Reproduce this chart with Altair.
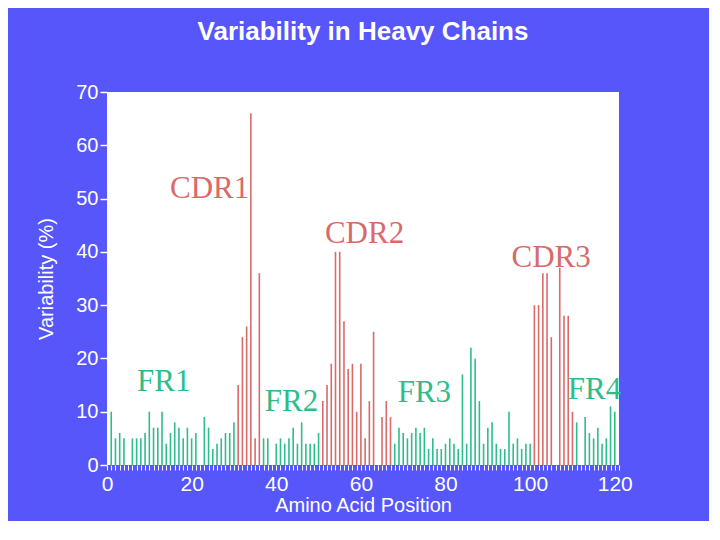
import altair as alt
import pandas as pd

# Amino acid positions and variability (%)
positions = [1, 2, 3, 4, 6, 7, 8, 9, 10, 11, 12, 13, 14, 15, 16, 17, 18, 19, 20, 21, 23, 24, 25, 26, 27, 28, 29, 30,
             31, 32, 33, 34, 35, 36,
             37, 38, 40, 41, 42, 43, 44, 45, 46, 47, 48, 49, 50,
             51, 52, 53, 54, 55, 56, 57, 58, 59, 60, 61, 62, 63, 65, 66, 67,
             68, 69, 70, 71, 72, 73, 74, 75, 76, 77, 78, 79, 80, 81, 82, 83, 84, 85, 86, 87, 88, 89, 90, 91, 92,
             93, 94, 95, 96, 97, 98, 99, 100,
             101, 102, 103, 104, 105, 107, 108, 109, 110,
             111, 113, 114, 115, 116, 117, 118, 119, 120]
variability = [10, 5, 6, 5, 5, 5, 5, 6, 10, 7, 7, 10, 4, 6, 8, 7, 5, 7, 5, 6, 9, 7, 3, 4, 5, 6, 6, 8,
               15, 24, 26, 66, 5, 36,
               5, 5, 4, 5, 4, 5, 7, 4, 8, 4, 4, 4, 6,
               12, 15, 19, 40, 40, 27, 18, 19, 10, 19, 5, 12, 25, 9, 12, 9,
               4, 7, 6, 5, 6, 7, 6, 7, 3, 5, 3, 3, 4, 5, 4, 3, 17, 4, 22, 20, 12, 4, 7, 8, 4,
               3, 3, 10, 4, 5, 3, 4, 4,
               30, 30, 36, 36, 24, 37, 28, 28, 10,
               8, 9, 6, 5, 7, 4, 5, 11, 10]
# hypervariable (CDR) ranges as coloured in the picture
cdr_ranges = [(31, 36), (51, 67), (101, 110)]

region_labels = ["CDR1", "CDR2", "CDR3", "FR1", "FR2", "FR3", "FR4"]
region_kind = ["CDR", "CDR", "CDR", "FR", "FR", "FR", "FR"]
label_x = [14.9, 51.5, 95.6, 7.1, 37.3, 68.7, 108.9]
label_y = [50.1, 41.7, 37.2, 13.9, 10.1, 11.8, 12.4]

y_ticks = [0, 10, 20, 30, 40, 50, 60, 70]
x_ticks = list(range(0, 122))

RED = "#d96a6a"
GREEN = "#2dbd8b"
TEXT_RED = "#e05858"
TEXT_GREEN = "#20b887"
BLUE = "#5656fb"

kind = ["CDR" if any(a <= p <= b for a, b in cdr_ranges) else "FR" for p in positions]
df = pd.DataFrame({"pos": positions, "var": variability, "kind": kind})
lab = pd.DataFrame({"x": label_x, "y": label_y, "text": region_labels, "kind": region_kind})

xscale = alt.Scale(domain=[0, 121], nice=False, zero=True)
yscale = alt.Scale(domain=[0, 70], nice=False)

xaxis = alt.Axis(values=x_ticks,
                 labelExpr="datum.value % 20 == 0 ? datum.label : ''",
                 labelOverlap=False, labelBound=False, labelFlush=False,
                 grid=False, domain=False,
                 tickColor="white", tickSize=5, tickWidth=1,
                 labelColor="white", labelFontSize=21, labelFont="Liberation Sans",
                 labelPadding=3, titleColor="white", titleFontSize=20,
                 titleFont="Liberation Sans", titleFontWeight="normal", titlePadding=1)
yaxis = alt.Axis(values=y_ticks, grid=False, domain=False,
                 tickColor="white", tickSize=7, tickWidth=1.5,
                 labelColor="white", labelFontSize=20, labelFont="Liberation Sans",
                 labelPadding=2, titleColor="white", titleFontSize=20,
                 titleFont="Liberation Sans", titleFontWeight="normal", titlePadding=19)

bars = alt.Chart(df).mark_rule(strokeWidth=1.6).encode(
    x=alt.X("pos:Q", scale=xscale, title="Amino Acid Position", axis=xaxis),
    y=alt.Y("var:Q", scale=yscale, title="Variability (%)", axis=yaxis),
    y2=alt.datum(0),
    color=alt.Color("kind:N", scale=alt.Scale(domain=["CDR", "FR"], range=[RED, GREEN]), legend=None),
)

labels = alt.Chart(lab).mark_text(font="Liberation Serif", fontSize=31, align="left",
                                  baseline="alphabetic").encode(
    x=alt.X("x:Q", scale=xscale, title="Amino Acid Position", axis=xaxis),
    y=alt.Y("y:Q", scale=yscale, title="Variability (%)", axis=yaxis),
    text="text:N",
    color=alt.Color("kind:N", scale=alt.Scale(domain=["CDR", "FR"], range=[TEXT_RED, TEXT_GREEN]), legend=None),
)

chart = alt.layer(bars, labels).properties(
    width=512, height=373,
    background=BLUE,
    title=alt.TitleParams("Variability in Heavy Chains", color="white", fontSize=26,
                          font="Liberation Sans", fontWeight="bold", anchor="middle", offset=37),
    padding={"left": 99, "top": 84, "right": 90, "bottom": 56},
    autosize=alt.AutoSizeParams(type="none"),
).configure_view(fill="white", strokeWidth=0)

chart.save("out.html", embed_options={"renderer": "svg", "actions": False})
